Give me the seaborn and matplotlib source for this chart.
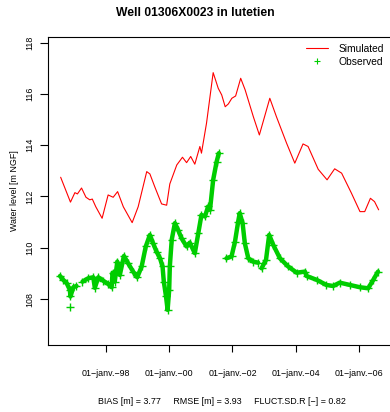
import matplotlib
matplotlib.use("Agg")
import matplotlib.pyplot as plt
import seaborn as sns
import pandas as pd
from matplotlib.lines import Line2D

# simulated level (decimal years, m NGF)
sim_year = [1996.57, 1996.88, 1997.02, 1997.10, 1997.23, 1997.37, 1997.49, 1997.57, 1997.68, 1997.88,
            1998.07, 1998.23, 1998.37, 1998.55, 1998.83, 1999.02, 1999.29, 1999.39, 1999.55, 1999.76,
            1999.92, 2000.02, 2000.24, 2000.42, 2000.55, 2000.68, 2000.81, 2000.97, 2001.02, 2001.18,
            2001.39, 2001.55, 2001.66, 2001.77, 2001.87, 2001.98, 2002.10, 2002.26, 2002.40, 2002.66,
            2002.85, 2003.03, 2003.18, 2003.39, 2003.71, 2003.97, 2004.23, 2004.39, 2004.71, 2004.99,
            2005.23, 2005.45, 2005.76, 2006.03, 2006.18, 2006.36, 2006.49, 2006.62]
sim_level = [112.75, 111.78, 112.15, 112.10, 112.33, 111.97, 111.87, 111.90, 111.60, 111.15,
             112.06, 111.97, 112.19, 111.60, 110.98, 111.60, 112.97, 112.88, 112.36, 111.71,
             111.66, 112.49, 113.23, 113.53, 113.32, 113.56, 113.26, 113.95, 113.69, 114.86,
             116.83, 116.22, 115.96, 115.50, 115.61, 115.83, 115.92, 116.61, 116.16, 115.11,
             114.40, 115.18, 115.83, 115.11, 114.08, 113.30, 114.05, 113.95, 113.06, 112.65,
             113.08, 112.91, 112.13, 111.41, 111.41, 111.93, 111.80, 111.48]

# observed level, split into the measured stretches
obs_year = [1996.55, 1996.65, 1996.76, 1996.86, 1996.88, 1996.97, 1997.07,
            1996.88,
            1997.26, 1997.44, 1997.60, 1997.65, 1997.76, 1997.91, 1998.07, 1998.18, 1998.21, 1998.28,
            1998.36, 1998.44, 1998.57, 1998.70, 1998.86, 1998.99, 1999.13, 1999.26, 1999.39, 1999.49,
            1999.60, 1999.71, 1999.79, 1999.83, 1999.90, 1999.95, 2000.00, 2000.02, 2000.08, 2000.18,
            2000.28, 2000.39, 2000.55, 2000.65, 2000.81, 2000.92, 2001.02, 2001.13, 2001.23, 2001.29,
            2001.39, 2001.50, 2001.57,
            2001.81, 2001.97, 2002.08, 2002.18, 2002.23, 2002.32, 2002.39, 2002.50, 2002.65, 2002.81,
            2002.92, 2003.06, 2003.16, 2003.29, 2003.50, 2003.76, 2004.03, 2004.29, 2004.34, 2004.66,
            2004.97, 2005.18, 2005.39, 2005.71, 2006.03, 2006.29, 2006.45, 2006.60]
obs_level = [108.90, 108.75, 108.62, 108.36, 108.10, 108.46, 108.51,
             107.68,
             108.68, 108.81, 108.85, 108.44, 108.85, 108.72, 108.59, 108.46, 109.03, 108.68,
             109.46, 108.94, 109.68, 109.40, 109.07, 108.85, 109.27, 110.05, 110.50, 110.18,
             109.85, 109.59, 109.27, 108.68, 108.10, 107.58, 108.36, 109.27, 110.31, 110.96,
             110.70, 110.37, 110.05, 110.20, 109.79, 110.57, 111.28, 111.22, 111.61, 111.48,
             112.65, 113.36, 113.69,
             109.59, 109.66, 110.24, 111.02, 111.35, 110.96, 110.18, 109.59, 109.46, 109.42,
             109.20, 109.53, 110.50, 110.11, 109.59, 109.27, 109.03, 109.07, 108.90, 108.75,
             108.55, 108.51, 108.64, 108.55, 108.46, 108.42, 108.75, 109.07]
obs_seg = [1] * 7 + [2] + [3] * 43 + [4] * 10 + [5] * 18

tick_years = [1998, 2000, 2002, 2004, 2006]
tick_labels = ["01\u2212janv.\u221298", "01\u2212janv.\u221200", "01\u2212janv.\u221202",
               "01\u2212janv.\u221204", "01\u2212janv.\u221206"]
y_ticks = [108, 110, 112, 114, 116, 118]

sns.set_theme(style="white")
plt.rcParams['font.family'] = ['Liberation Sans', 'DejaVu Sans']
for key in ['text.color', 'axes.labelcolor', 'xtick.color', 'ytick.color', 'axes.edgecolor']:
    plt.rcParams[key] = 'black'

green = '#00CD00'

fig = plt.figure(figsize=(3.9, 4.12), dpi=100)
ax = fig.add_axes([48 / 390, 67.3 / 412, 349 / 390, 307.7 / 412])

sim = pd.DataFrame({'year': sim_year, 'level': sim_level})
obs = pd.DataFrame({'year': obs_year, 'level': obs_level, 'seg': obs_seg})

sns.lineplot(data=obs, x='year', y='level', units='seg', estimator=None, sort=False,
             color=green, lw=3.2, marker='+', markersize=5.5, mew=1.0, mec=green, ax=ax)
sns.lineplot(data=sim, x='year', y='level', estimator=None, sort=False,
             color='red', lw=0.8, ax=ax)

ax.set_xlim(1996.17, 2007.2)
ax.set_ylim(106.22, 118.22)
ax.set_xticks(tick_years, tick_labels)
ax.set_yticks(y_ticks, [str(v) for v in y_ticks])
for lab in ax.get_yticklabels():
    lab.set_rotation(90)
    lab.set_va('center')
ax.tick_params(bottom=True, left=True, direction='out', width=0.8, labelsize=6.4)
ax.tick_params(axis='x', length=5, pad=12.5)
ax.tick_params(axis='y', length=5.5, pad=4.5)
for sp in ax.spines.values():
    sp.set_visible(True)
    sp.set_color('black')
    sp.set_linewidth(0.8)

ax.set_xlabel('')
ax.set_ylabel('Water level [m NGF]', fontsize=6.4)
ax.yaxis.set_label_coords(-0.083, 0.5)

fig.text(0.5, 1 - 13 / 412, 'Well 01306X0023 in lutetien', ha='center', va='center',
         fontsize=8.7, fontweight='bold')
fig.text(222 / 390, 1 - 401 / 412,
         'BIAS [m] = 3.77     RMSE [m] = 3.93     FLUCT.SD.R [\u2212] = 0.82',
         ha='center', va='center', fontsize=6.4)

handles = [Line2D([], [], color='red', lw=0.8),
           Line2D([], [], color=green, marker='+', ls='none', ms=5, mew=0.8)]
fig.legend(handles, ['Simulated', 'Observed'], loc='upper left',
           bbox_to_anchor=(306 / 390, 1 - 44 / 412), frameon=False, fontsize=7.4,
           handlelength=2.1, handletextpad=1.1, labelspacing=0.3, borderpad=0, borderaxespad=0)

fig.savefig('out.png', dpi=100)
